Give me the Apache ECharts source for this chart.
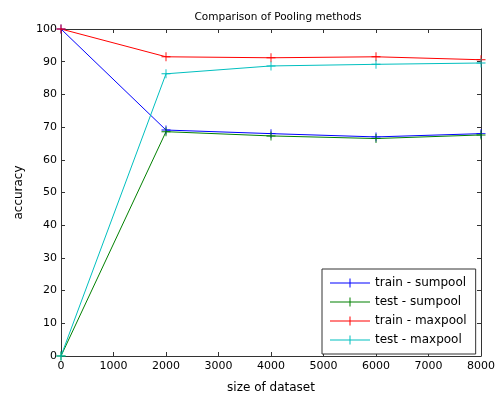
<!DOCTYPE html>
<html>
<head>
<meta charset="utf-8">
<script src="https://cdn.jsdelivr.net/npm/echarts@6/dist/echarts.min.js"></script>
<style>html,body{margin:0;padding:0;background:#fff}#c{width:498px;height:399px}</style>
</head>
<body>
<div id="c"></div>
<script>
const sizes = [0, 2000, 4000, 6000, 8000];
const trainSumpool = [100, 69.1, 68.0, 67.0, 68.0];
const testSumpool = [0, 68.6, 67.3, 66.5, 67.6];
const trainMaxpool = [100, 91.5, 91.2, 91.5, 90.6];
const testMaxpool = [0, 86.3, 88.7, 89.2, 89.6];
const names = ['train - sumpool', 'test - sumpool', 'train - maxpool', 'test - maxpool'];
const colors = ['#0000ff', '#008000', '#ff0000', '#00bfbf'];
const seriesData = [trainSumpool, testSumpool, trainMaxpool, testMaxpool];

const FONT = '"DejaVu Sans", sans-serif';
const plus = 'path://M4.5,0H5.5V4.5H10V5.5H5.5V10H4.5V5.5H0V4.5H4.5Z';
const legendIcon = 'path://M0,4.5H40V5.5H0Z M19.5,0.5H20.5V9.5H19.5Z';

const chart = echarts.init(document.getElementById('c'));
const axisLine = {show: true, onZero: false, lineStyle: {color: '#333', width: 1}};
const tick = {show: true, inside: true, length: 4, lineStyle: {color: '#333'}};
chart.setOption({
  animation: false,
  backgroundColor: '#fff',
  title: {
    text: 'Comparison of Pooling methods',
    left: 273, top: 7, textAlign: 'center',
    textStyle: {fontFamily: FONT, fontSize: 10.5, fontWeight: 'normal', color: '#000'}
  },
  grid: {left: 61, right: 14, top: 29, bottom: 35, containLabel: false, show: false},
  legend: {
    orient: 'vertical', left: 322, top: 269,
    padding: [7, 9, 7, 8], itemGap: 5, itemWidth: 40, itemHeight: 10,
    borderColor: '#333', borderWidth: 1, backgroundColor: '#fff',
    textStyle: {fontFamily: FONT, fontSize: 12, color: '#000', lineHeight: 14},
    data: names.map((n, i) => ({name: n, icon: legendIcon, itemStyle: {color: colors[i]}}))
  },
  xAxis: [{
    type: 'value', min: 0, max: 8000, interval: 1000,
    name: 'size of dataset', nameLocation: 'middle', nameGap: 26,
    nameTextStyle: {fontFamily: FONT, fontSize: 12, color: '#000'},
    axisLine: axisLine, axisTick: tick, splitLine: {show: false},
    axisLabel: {fontFamily: FONT, fontSize: 11, color: '#000', margin: 5, formatter: v => String(v)}
  }, {
    type: 'value', min: 0, max: 8000, interval: 1000, position: 'top',
    axisLine: axisLine, axisTick: tick, splitLine: {show: false}, axisLabel: {show: false}
  }],
  yAxis: [{
    type: 'value', min: 0, max: 100, interval: 10,
    name: 'accuracy', nameLocation: 'middle', nameGap: 36,
    nameTextStyle: {fontFamily: FONT, fontSize: 12, color: '#000'},
    axisLine: axisLine, axisTick: tick, splitLine: {show: false},
    axisLabel: {fontFamily: FONT, fontSize: 11, color: '#000', margin: 4}
  }, {
    type: 'value', min: 0, max: 100, interval: 10, position: 'right',
    axisLine: axisLine, axisTick: tick, splitLine: {show: false}, axisLabel: {show: false}
  }],
  series: seriesData.map((d, i) => ({
    name: names[i], type: 'line', xAxisIndex: 0, yAxisIndex: 0,
    data: sizes.map((s, j) => [s, d[j]]),
    symbol: plus, symbolSize: 9, showSymbol: true,
    lineStyle: {color: colors[i], width: 1},
    itemStyle: {color: colors[i]},
    emphasis: {disabled: true}
  }))
});
</script>
</body>
</html>
